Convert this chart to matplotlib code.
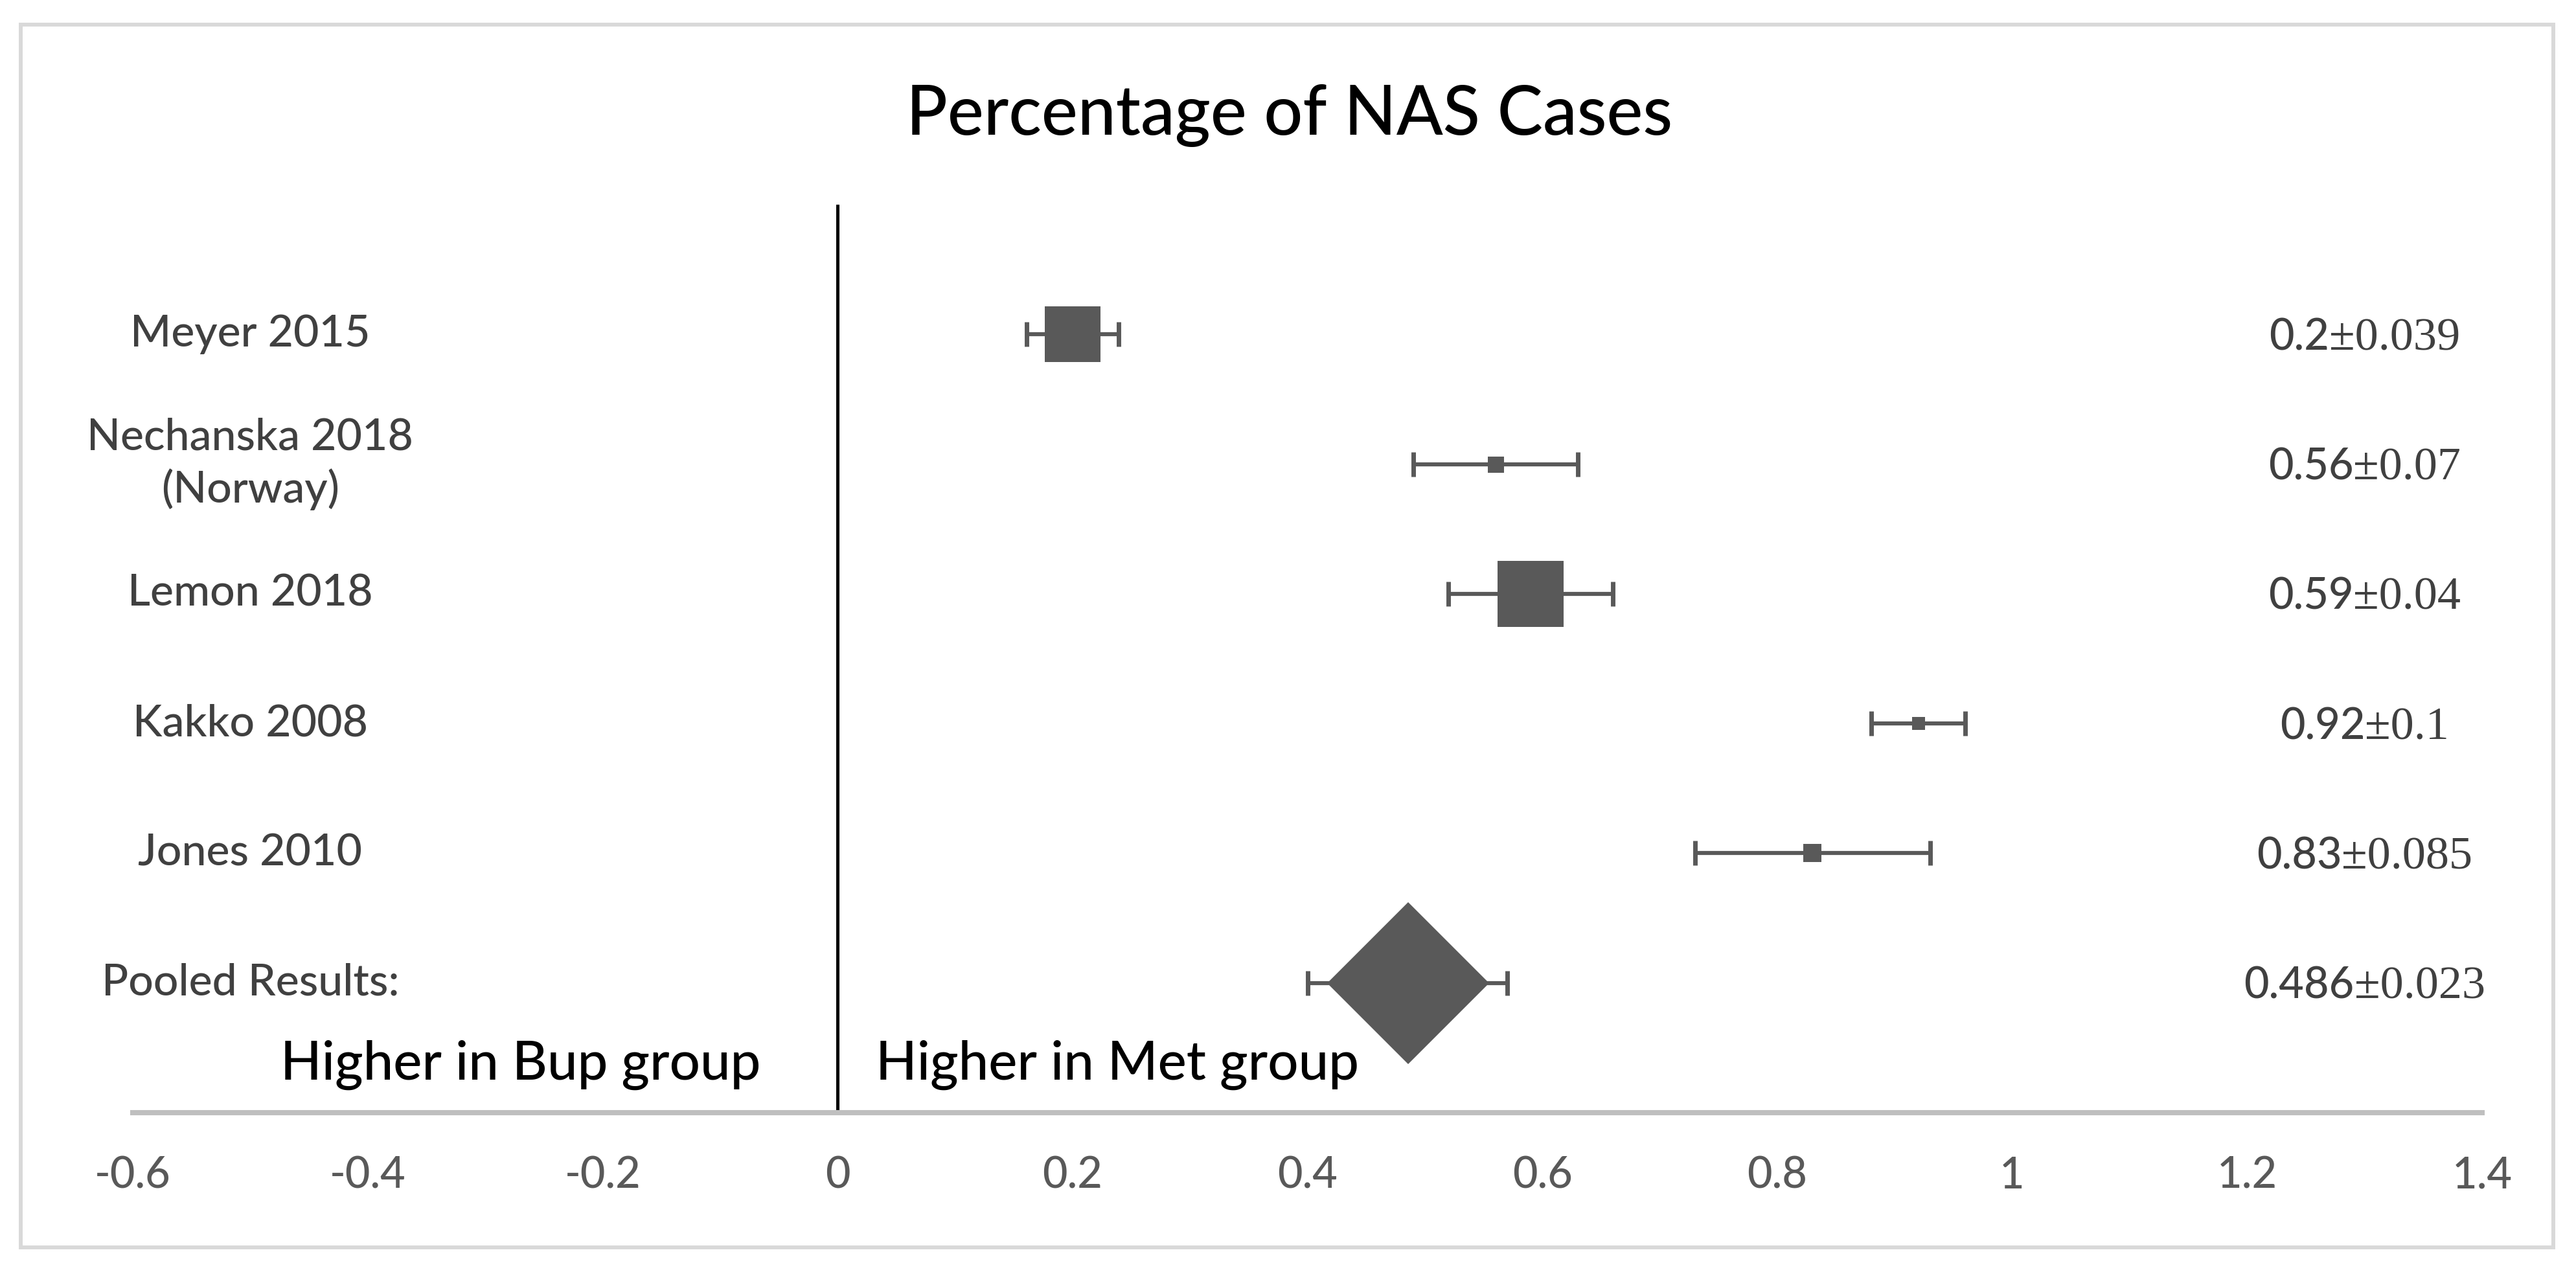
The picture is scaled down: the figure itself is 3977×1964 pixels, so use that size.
import numpy as np
import matplotlib
matplotlib.use("Agg")
import matplotlib.pyplot as plt
from matplotlib.patches import Rectangle

# forest plot data, top row first
studies = ["Meyer 2015", "Nechanska 2018\n(Norway)", "Lemon 2018",
           "Kakko 2008", "Jones 2010", "Pooled Results:"]
effect = [0.2, 0.56, 0.59, 0.92, 0.83, 0.486]
err_low = [0.039, 0.07, 0.07, 0.04, 0.10, 0.086]
err_high = [0.039, 0.07, 0.07, 0.04, 0.10, 0.084]
marker_kind = ["s", "s", "s", "s", "s", "D"]
marker_pt = [62, 18, 74, 14, 20, 127]
value_main = ["0.2", "0.56", "0.59", "0.92", "0.83", "0.486"]
value_pm = ["\u00b10.039", "\u00b10.07", "\u00b10.04", "\u00b10.1", "\u00b10.085", "\u00b10.023"]
xticks = np.round(np.arange(-0.6, 1.41, 0.2), 1)

W, H = 3977, 1964
sans = "Lato"
serif = "Liberation Serif"
grey = "#595959"
dark = "#404040"

fig = plt.figure(figsize=(W / 100, H / 100), dpi=100)
ax = fig.add_axes([205 / W, 1 - 1718 / H, 3627 / W, 1402 / H])
ax.set_xlim(-0.6, 1.4)
ax.set_ylim(0, 7)

rows = np.arange(len(studies), 0, -1)

for x, y, lo, hi, mk, ms in zip(effect, rows, err_low, err_high, marker_kind, marker_pt):
    ax.errorbar(x, y, xerr=[[lo], [hi]], fmt="none", ecolor=grey,
                elinewidth=4.5, capsize=14, capthick=5, zorder=2)
    ax.plot(x, y, marker=mk, ms=ms, color=grey, mew=0, ls="none", zorder=3)

ax.axvline(0, color="black", lw=3.6, zorder=1)

for spine in ["top", "left", "right"]:
    ax.spines[spine].set_visible(False)
ax.spines["bottom"].set_color("#BFBFBF")
ax.spines["bottom"].set_linewidth(5.8)
ax.set_yticks([])
ax.set_xticks(xticks)
ax.set_xticklabels([f"{v:g}" for v in xticks], family=sans, fontsize=48,
                   color=grey, weight="medium")
ax.tick_params(axis="x", length=0, pad=48)

for y, name in zip(rows, studies):
    ax.text(-0.5, y, name, ha="center", va="center", family=sans, weight="medium",
            fontsize=49, color=dark, linespacing=1.32)

ax.text(-0.27, 0.255, "Higher in Bup group", ha="center", va="baseline",
        family=sans, weight="medium", fontsize=60, color="black")
ax.text(0.238, 0.255, "Higher in Met group", ha="center", va="baseline",
        family=sans, weight="medium", fontsize=60, color="black")

fig.text(1991 / W, 1 - 208 / H, "Percentage of NAS Cases", ha="center",
         va="baseline", family=sans, weight="medium", fontsize=76, color="black")

# value labels: sans number followed by serif +- part, centred as a group
fig.canvas.draw()
renderer = fig.canvas.get_renderer()
for y, main, pm in zip(rows, value_main, value_pm):
    cx, cy = ax.transData.transform((1.30, y))
    base = cy - 24
    t1 = fig.text(0, base / H, main, ha="left", va="baseline",
                  family=sans, weight="medium", fontsize=48, color=dark)
    t2 = fig.text(0, base / H, pm, ha="left", va="baseline",
                  family=serif, fontsize=52, color=dark)
    w1 = t1.get_window_extent(renderer).width
    w2 = t2.get_window_extent(renderer).width
    x0 = cx - (w1 + w2) / 2
    t1.set_x(x0 / W)
    t2.set_x((x0 + w1) / W)

fig.patches.append(Rectangle((32 / W, 1 - 1926 / H), (3942 - 32) / W, (1926 - 38) / H,
                             transform=fig.transFigure, fill=False,
                             ec="#D9D9D9", lw=4.3))

fig.savefig("out.png", dpi=100, facecolor="white")
